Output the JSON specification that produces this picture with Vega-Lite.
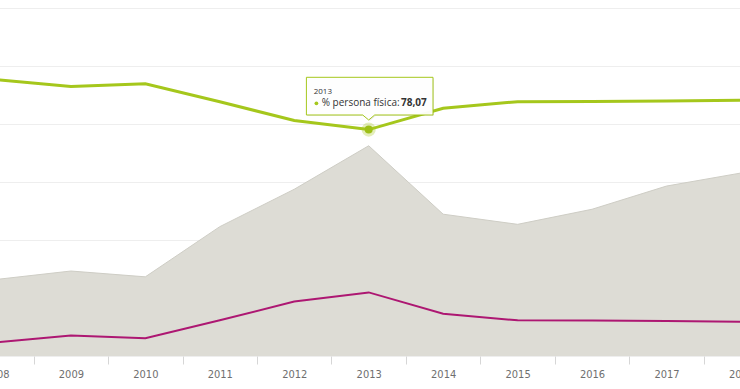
{
  "$schema": "https://vega.github.io/schema/vega-lite/v6.json",
  "autosize": {"type": "none"},
  "width": 740,
  "height": 348,
  "padding": {"left": 0, "top": 8, "right": 0, "bottom": 33},
  "background": "white",
  "config": {
    "view": {"stroke": null},
    "locale": {"number": {"decimal": ",", "thousands": ".", "grouping": [3], "currency": ["", " €"]}},
    "axisY": {"grid": true, "gridColor": "#eeeeee", "gridWidth": 1, "labels": false, "ticks": false, "domain": false, "title": null, "tickCount": 6}
  },
  "data": {
    "values": [
      {"year": "2008", "fisica": 95.3, "juridica": 4.7, "total": 26.4},
      {"year": "2009", "fisica": 92.9, "juridica": 7.1, "total": 29.3},
      {"year": "2010", "fisica": 93.9, "juridica": 6.1, "total": 27.3},
      {"year": "2011", "fisica": 87.7, "juridica": 12.3, "total": 44.6},
      {"year": "2012", "fisica": 81.2, "juridica": 18.8, "total": 57.5},
      {"year": "2013", "fisica": 78.07, "juridica": 21.93, "total": 72.5},
      {"year": "2014", "fisica": 85.4, "juridica": 14.6, "total": 48.9},
      {"year": "2015", "fisica": 87.7, "juridica": 12.3, "total": 45.4},
      {"year": "2016", "fisica": 87.8, "juridica": 12.2, "total": 50.6},
      {"year": "2017", "fisica": 87.9, "juridica": 12.1, "total": 58.6},
      {"year": "2018", "fisica": 88.2, "juridica": 11.8, "total": 63.1}
    ]
  },
  "encoding": {
    "x": {
      "field": "year",
      "type": "ordinal",
      "bandPosition": 0.5,
      "scale": {"type": "band", "range": [-40.8, 778.2], "paddingInner": 0, "paddingOuter": 0},
      "axis": {
        "orient": "bottom",
        "title": null,
        "labelAngle": 0,
        "tickBand": "extent",
        "grid": false,
        "domain": false,
        "ticks": true,
        "tickColor": "#d6d6d6",
        "tickSize": 8,
        "labelPadding": 4,
        "labelColor": "#6f6f6f",
        "labelFont": "Liberation Sans Narrow, DejaVu Sans Condensed, sans-serif",
        "labelFontSize": 11,
        "labelOverlap": false
      }
    }
  },
  "layer": [
    {
      "mark": {"type": "area", "color": "#dddcd5", "opacity": 1, "line": {"color": "#cecdc5", "strokeWidth": 1}},
      "encoding": {"y": {"field": "total", "type": "quantitative", "scale": {"domain": [0, 120], "nice": false}}}
    },
    {
      "mark": {"type": "line", "color": "#ad1772", "strokeWidth": 2},
      "encoding": {"y": {"field": "juridica", "type": "quantitative"}}
    },
    {
      "mark": {"type": "line", "color": "#a5c71c", "strokeWidth": 3},
      "encoding": {"y": {"field": "fisica", "type": "quantitative"}}
    },
    {
      "transform": [{"filter": "datum.year == '2013'"}],
      "mark": {"type": "point", "filled": true, "color": "#a5c71c", "opacity": 0.3, "size": 200},
      "encoding": {"y": {"field": "fisica", "type": "quantitative"}}
    },
    {
      "transform": [{"filter": "datum.year == '2013'"}],
      "mark": {"type": "point", "filled": true, "color": "#9dbf17", "opacity": 1, "size": 64},
      "encoding": {"y": {"field": "fisica", "type": "quantitative"}}
    },
    {
      "transform": [{"filter": "datum.year == '2013'"}],
      "mark": {"type": "point", "filled": true, "color": "#000000", "opacity": 0.08, "size": 400,
        "shape": "M -6.13 -5.13 H 6.53 V -1.36 H 0.7 L 0.1 -0.86 L -0.5 -1.36 H -6.13 Z"},
      "encoding": {"y": {"field": "fisica", "type": "quantitative"}}
    },
    {
      "transform": [{"filter": "datum.year == '2013'"}],
      "mark": {"type": "point", "filled": true, "fill": "#ffffff", "fillOpacity": 0.95, "stroke": "#a5c71c", "strokeWidth": 1, "strokeOpacity": 1, "size": 400,
        "shape": "M -6.23 -5.23 H 6.43 V -1.46 H 0.6 L 0 -0.96 L -0.6 -1.46 H -6.23 Z"},
      "encoding": {"y": {"field": "fisica", "type": "quantitative"}}
    },
    {
      "transform": [{"filter": "datum.year == '2013'"}],
      "mark": {"type": "text", "align": "left", "baseline": "alphabetic", "dx": -55, "dy": -35.3, "font": "Open Sans", "fontSize": 8, "color": "#333333"},
      "encoding": {"y": {"field": "fisica", "type": "quantitative"}, "text": {"field": "year"}}
    },
    {
      "transform": [{"filter": "datum.year == '2013'"}],
      "mark": {"type": "point", "filled": true, "color": "#a5c71c", "opacity": 1, "size": 14, "xOffset": -52.3, "yOffset": -26.3},
      "encoding": {"y": {"field": "fisica", "type": "quantitative"}}
    },
    {
      "transform": [{"filter": "datum.year == '2013'"}],
      "mark": {"type": "text", "align": "left", "baseline": "alphabetic", "dx": -47, "dy": -23.6, "font": "Open Sans", "fontSize": 10, "color": "#333333"},
      "encoding": {"y": {"field": "fisica", "type": "quantitative"}, "text": {"value": "% persona física:"}}
    },
    {
      "transform": [{"filter": "datum.year == '2013'"}],
      "mark": {"type": "text", "align": "right", "baseline": "alphabetic", "dx": 58, "dy": -23.6, "font": "Open Sans", "fontSize": 10, "fontWeight": "bold", "color": "#333333"},
      "encoding": {"y": {"field": "fisica", "type": "quantitative"}, "text": {"field": "fisica", "type": "quantitative", "format": ".2f"}}
    }
  ]
}
